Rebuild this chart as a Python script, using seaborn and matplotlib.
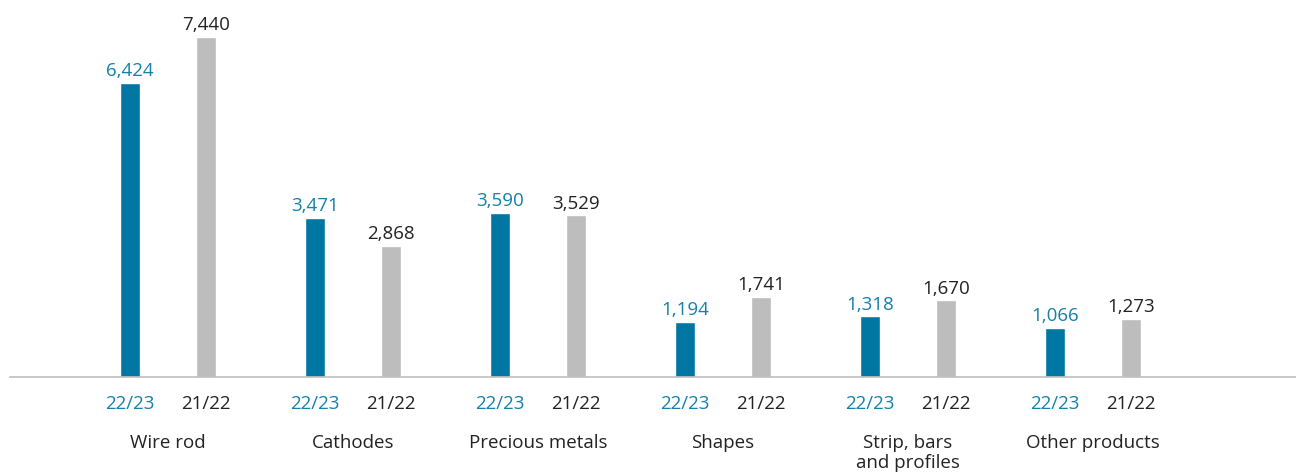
import pandas as pd
import matplotlib
matplotlib.use("Agg")
import matplotlib.pyplot as plt
import seaborn as sns

# Data
categories = ["Wire rod", "Cathodes", "Precious metals", "Shapes",
              "Strip, bars\nand profiles", "Other products"]
periods = ["22/23", "21/22"]
fy_2223 = [6424, 3471, 3590, 1194, 1318, 1066]
fy_2122 = [7440, 2868, 3529, 1741, 1670, 1273]

BLUE = "#0077A3"
GREY = "#BDBDBD"
BLUE_TXT = "#1580A8"
DARK_TXT = "#222222"

df = pd.DataFrame({
    "Category": categories * 2,
    "Period": [periods[0]] * len(categories) + [periods[1]] * len(categories),
    "Value": fy_2223 + fy_2122,
})

sns.set_style("white")
plt.rcParams["font.family"] = ["Open Sans", "DejaVu Sans"]

fig = plt.figure(figsize=(12.96, 4.74), dpi=100)
ax = fig.add_axes([10 / 1296, 0.2053, 1 - 10 / 1296, 0.7713])

sns.barplot(data=df, x="Category", y="Value", hue="Period", hue_order=periods,
            order=categories, palette=[BLUE, GREY], width=0.82, gap=0.73,
            saturation=1, legend=False, ax=ax)

ax.set_ylim(0, 8000)
ax.set_xlim(-0.854, 6.097)

# Value labels
txt_colors = [BLUE_TXT, DARK_TXT]
for cont, col in zip(ax.containers, txt_colors):
    ax.bar_label(cont, fmt="{:,.0f}", padding=2, fontsize=13.5, color=col)

# Period labels under each bar
tick_pos, tick_lab, tick_col = [], [], []
for cont, lab, col in zip(ax.containers, periods, txt_colors):
    for bar in cont:
        tick_pos.append(bar.get_x() + bar.get_width() / 2)
        tick_lab.append(lab)
        tick_col.append(col)
ax.set_xticks(tick_pos)
ax.set_xticklabels(tick_lab, fontsize=13.5)
for t, c in zip(ax.get_xticklabels(), tick_col):
    t.set_color(c)
ax.tick_params(axis="x", length=0, pad=13)
ax.set_yticks([])
ax.set_xlabel("")
ax.set_ylabel("")

# Category labels
for i, cat in enumerate(categories):
    ax.annotate(cat, xy=(i, 0), xycoords=("data", "axes fraction"),
                xytext=(0, -41), textcoords="offset points",
                ha="center", va="top", fontsize=13.5, color=DARK_TXT,
                linespacing=1.2, annotation_clip=False)

for s in ["left", "top", "right"]:
    ax.spines[s].set_visible(False)
ax.spines["bottom"].set_color("#BFBFBF")
ax.spines["bottom"].set_linewidth(1.2)

fig.savefig("out.png", dpi=100)
